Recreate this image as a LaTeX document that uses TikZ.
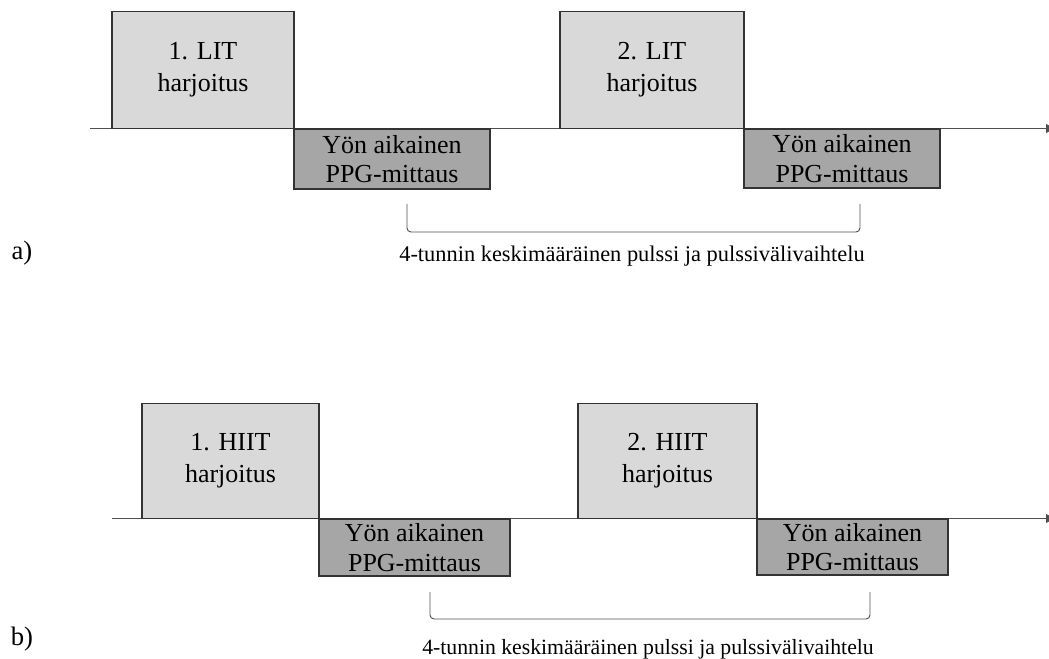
\documentclass[tikz,border=0pt]{standalone}
\usepackage{fontspec}
\setmainfont{Liberation Serif}
\usetikzlibrary{arrows.meta}
\definecolor{lightbox}{HTML}{D9D9D9}
\definecolor{darkbox}{HTML}{A6A6A6}
\definecolor{edge}{HTML}{333333}
\definecolor{axiscol}{HTML}{505050}
\begin{document}
\begin{tikzpicture}[x=0.75pt,y=-0.75pt,
  trainbox/.style={draw=edge,line width=1pt,fill=lightbox,inner sep=0pt,
    minimum height=87.75pt,align=center,font=\fontsize{19.5}{24}\selectfont},
  ppgbox/.style={draw=edge,line width=1.1pt,fill=darkbox,inner sep=0pt,
    align=center,font=\fontsize{19.5}{22}\selectfont},
  axisline/.style={draw=axiscol,line width=1.1pt,-{Latex[length=9pt,width=7pt]}},
  bracketline/.style={draw=axiscol,line width=0.7pt,rounded corners=3pt},
  labeltext/.style={inner sep=0pt,font=\fontsize{16.8}{20}\selectfont},
  partlabel/.style={inner sep=0pt,font=\fontsize{20}{24}\selectfont}]
\useasboundingbox (0,0) rectangle (1049,659);
% ---------- part a ----------
\coordinate (a0) at (90,128.5);
\coordinate (a1) at (1058,128.5);
\draw[axisline] (a0) -- (a1);
\node[trainbox,minimum width=136.5pt] (aL1) at (203,70) {1. LIT\\harjoitus};
\node[trainbox,minimum width=138pt] (aL2) at (652,70) {2. LIT\\harjoitus};
\node[ppgbox,minimum width=147pt,minimum height=45pt] (aP1) at (392,159) {Yön aikainen\\PPG-mittaus};
\node[ppgbox,minimum width=147pt,minimum height=44.25pt] (aP2) at (842,158.5) {Yön aikainen\\PPG-mittaus};
\coordinate (aB1) at (407,204);
\coordinate (aB2) at (407,232);
\coordinate (aB3) at (860,232);
\coordinate (aB4) at (860,204);
\draw[bracketline] (aB1) -- (aB2) -- (aB3) -- (aB4);
\node[labeltext] (aT) at (632,256) {4-tunnin keskimääräinen pulssi ja pulssivälivaihtelu};
\node[partlabel] (aLab) at (22,253) {a)};
% ---------- part b ----------
\coordinate (b0) at (112,518.5);
\coordinate (b1) at (1058,518.5);
\draw[axisline] (b0) -- (b1);
\node[trainbox,minimum width=132.75pt,minimum height=86.25pt] (bH1) at (230.5,461) {1. HIIT\\harjoitus};
\node[trainbox,minimum width=134.25pt,minimum height=86.25pt] (bH2) at (667.5,461) {2. HIIT\\harjoitus};
\node[ppgbox,minimum width=143.25pt,minimum height=42.75pt] (bP1) at (414.5,547.5) {Yön aikainen\\PPG-mittaus};
\node[ppgbox,minimum width=143.25pt,minimum height=42pt] (bP2) at (852.5,547) {Yön aikainen\\PPG-mittaus};
\coordinate (bB1) at (430,592);
\coordinate (bB2) at (430,619);
\coordinate (bB3) at (870,619);
\coordinate (bB4) at (870,592);
\draw[bracketline] (bB1) -- (bB2) -- (bB3) -- (bB4);
\node[labeltext,font=\fontsize{16.3}{20}\selectfont] (bT) at (648,649) {4-tunnin keskimääräinen pulssi ja pulssivälivaihtelu};
\node[partlabel] (bLab) at (22,639) {b)};
\end{tikzpicture}
\end{document}
